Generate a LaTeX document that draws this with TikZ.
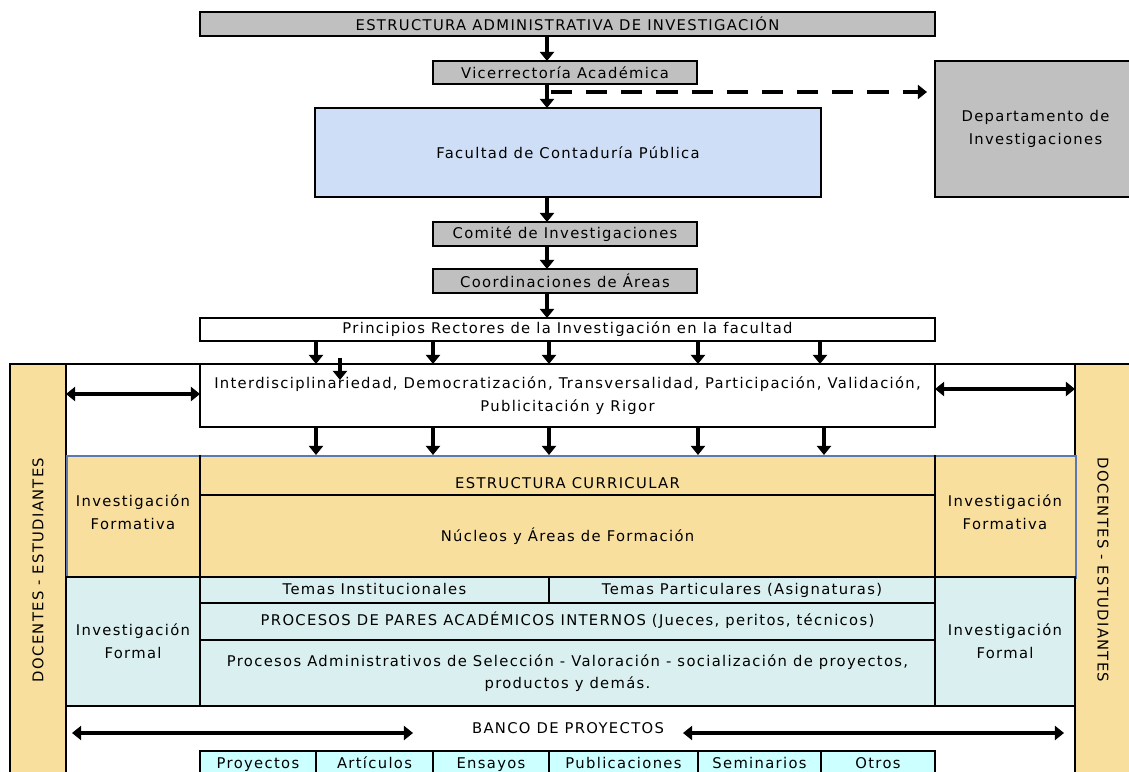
\documentclass[tikz,border=0pt]{standalone}
\usepackage{fontspec}
\setmainfont[LetterSpace=9]{DejaVu Sans}
\usetikzlibrary{arrows.meta}
\definecolor{gris}{RGB}{192,192,192}
\definecolor{azulfac}{RGB}{207,222,247}
\definecolor{amarillo}{RGB}{248,223,158}
\definecolor{celeste}{RGB}{218,240,240}
\definecolor{cian}{RGB}{204,255,255}
\definecolor{bordeazul}{RGB}{90,120,180}
\begin{document}
\begin{tikzpicture}[x=0.025cm,y=-0.025cm,
  sz/.style 2 args={minimum width=#1*0.025cm, minimum height=#2*0.025cm},
  txt/.style={inner sep=0pt, outer sep=0pt, align=center, font=\fontsize{10.5}{16}\selectfont},
  caja/.style={txt, draw, line width=2pt},
  cajagris/.style={caja, fill=gris},
  celda/.style={caja, line width=1.5pt},
  linea/.style={txt, text height=1.6ex, text depth=0.5ex},
  flecha/.style={line width=2.5pt, -{Triangle[width=10pt,length=6.5pt]}},
  doble/.style={line width=2.5pt, {Triangle[width=10pt,length=6.5pt]}-{Triangle[width=10pt,length=6.5pt]}}]
\useasboundingbox (0,0) rectangle (1129,771);

% marco de docentes - estudiantes
\draw[line width=2pt] (10,364) rectangle (1140,800);
\node[caja, fill=amarillo, sz={56}{440}, anchor=north west] (bandaI) at (10,364) {};
\node[caja, fill=amarillo, sz={65}{440}, anchor=north west] (bandaD) at (1075,364) {};
\node[txt, rotate=90] (docI) at (38,570) {DOCENTES - ESTUDIANTES};
\node[txt, rotate=-90] (docD) at (1103,570) {DOCENTES - ESTUDIANTES};

% estructura administrativa
\coordinate (eje) at (547,0);
\node[cajagris, sz={735}{24}] (titulo) at (567.5,24) {ESTRUCTURA ADMINISTRATIVA DE INVESTIGACIÓN};
\node[cajagris, sz={264}{23}] (vice) at (565,72.5) {Vicerrectoría Académica};
\node[cajagris, sz={201}{136}] (depto) at (1035.5,129) {Departamento de\\Investigaciones};
\node[caja, fill=azulfac, sz={506}{89}] (facultad) at (568,152.5) {Facultad de Contaduría Pública};
\node[cajagris, sz={264}{24}] (comite) at (565,234) {Comité de Investigaciones};
\node[cajagris, sz={264}{24}] (coord) at (565,281) {Coordinaciones de Áreas};
\node[caja, fill=white, sz={735}{23}] (princ) at (567.5,329.5) {Principios Rectores de la Investigación en la facultad};
\node[caja, fill=white, sz={735}{63}] (inter) at (567.5,395.5) {Interdisciplinariedad, Democratización, Transversalidad, Participación, Validación,\\Publicitación y Rigor};

\draw[flecha] (titulo.south -| eje) -- (vice.north -| eje);
\draw[flecha] (vice.south -| eje) -- (facultad.north -| eje);
\draw[flecha] (facultad.south -| eje) -- (comite.north -| eje);
\draw[flecha] (comite.south -| eje) -- (coord.north -| eje);
\draw[flecha] (coord.south -| eje) -- (princ.north -| eje);
\coordinate (guion) at (551,92);
\draw[flecha, line width=3.5pt, dash pattern=on 15pt off 10pt, shorten >=0.2cm] (guion) -- (depto.west |- guion);

% principios
\foreach \x in {316,433,549,698,820}
  \draw[flecha] (princ.south -| \x,0) -- (inter.north -| \x,0);
\coordinate (suelta) at (340,358);
\draw[flecha] (suelta) -- ++(0,22);
\coordinate (fi) at (0,394);
\coordinate (fd) at (0,389);
\draw[doble] (bandaI.east |- fi) -- (inter.west |- fi);
\draw[doble] (inter.east |- fd) -- (bandaD.west |- fd);

% investigacion formativa
\node[draw=bordeazul, line width=1.2pt, fill=amarillo, inner sep=0pt, sz={1009}{122}, anchor=north west] (filaform) at (66,455) {};
\foreach \x in {316,433,549,698,824}
  \draw[flecha] (inter.south -| \x,0) -- (filaform.north -| \x,0);
\node[txt] (ifI) at (133,512) {Investigación\\Formativa};
\node[txt] (ifD) at (1005,512) {Investigación\\Formativa};
\node[txt, sz={735}{40}, label={[linea, yshift=-0.22cm]center:ESTRUCTURA CURRICULAR}] (curric) at (567.5,475) {};
\node[txt, sz={735}{82}] (nucleos) at (567.5,536) {Núcleos y Áreas de Formación};
\draw[line width=1.6pt] (curric.south west) -- (curric.south east);
\draw[line width=1.6pt] (curric.north west) -- (nucleos.south west);
\draw[line width=1.6pt] (curric.north east) -- (nucleos.south east);

% investigacion formal
\node[caja, fill=celeste, sz={1009}{129}, anchor=north west] (filaformal) at (66,577) {};
\node[txt] (fmI) at (133,641) {Investigación\\Formal};
\node[txt] (fmD) at (1005,641) {Investigación\\Formal};
\node[celda, linea, sz={349}{26}] (temI) at (374.5,590) {Temas Institucionales};
\node[celda, linea, sz={386}{26}] (temP) at (742,590) {Temas Particulares (Asignaturas)};
\node[celda, linea, sz={735}{37}] (pares) at (567.5,621.5) {PROCESOS DE PARES ACADÉMICOS INTERNOS (Jueces, peritos, técnicos)};
\node[celda, sz={735}{66}] (admin) at (567.5,673) {Procesos Administrativos de Selección - Valoración - socialización de proyectos,\\productos y demás.};

% banco de proyectos
\node[linea] (banco) at (568,729) {BANCO DE PROYECTOS};
\coordinate (b1) at (72,733);
\coordinate (b2) at (413,733);
\coordinate (b3) at (683,733);
\coordinate (b4) at (1064,733);
\draw[doble] (b1) -- (b2);
\draw[doble] (b3) -- (b4);
\foreach \n/\a/\b [count=\i] in {Proyectos/200/316, Artículos/316/433, Ensayos/433/549,
    Publicaciones/549/698, Seminarios/698/821, Otros/821/935}
  \node[celda, linea, fill=cian, sz={(\b-\a)}{26}] (prod\i) at ({(\a+\b)/2},764) {\n};
\end{tikzpicture}
\end{document}
